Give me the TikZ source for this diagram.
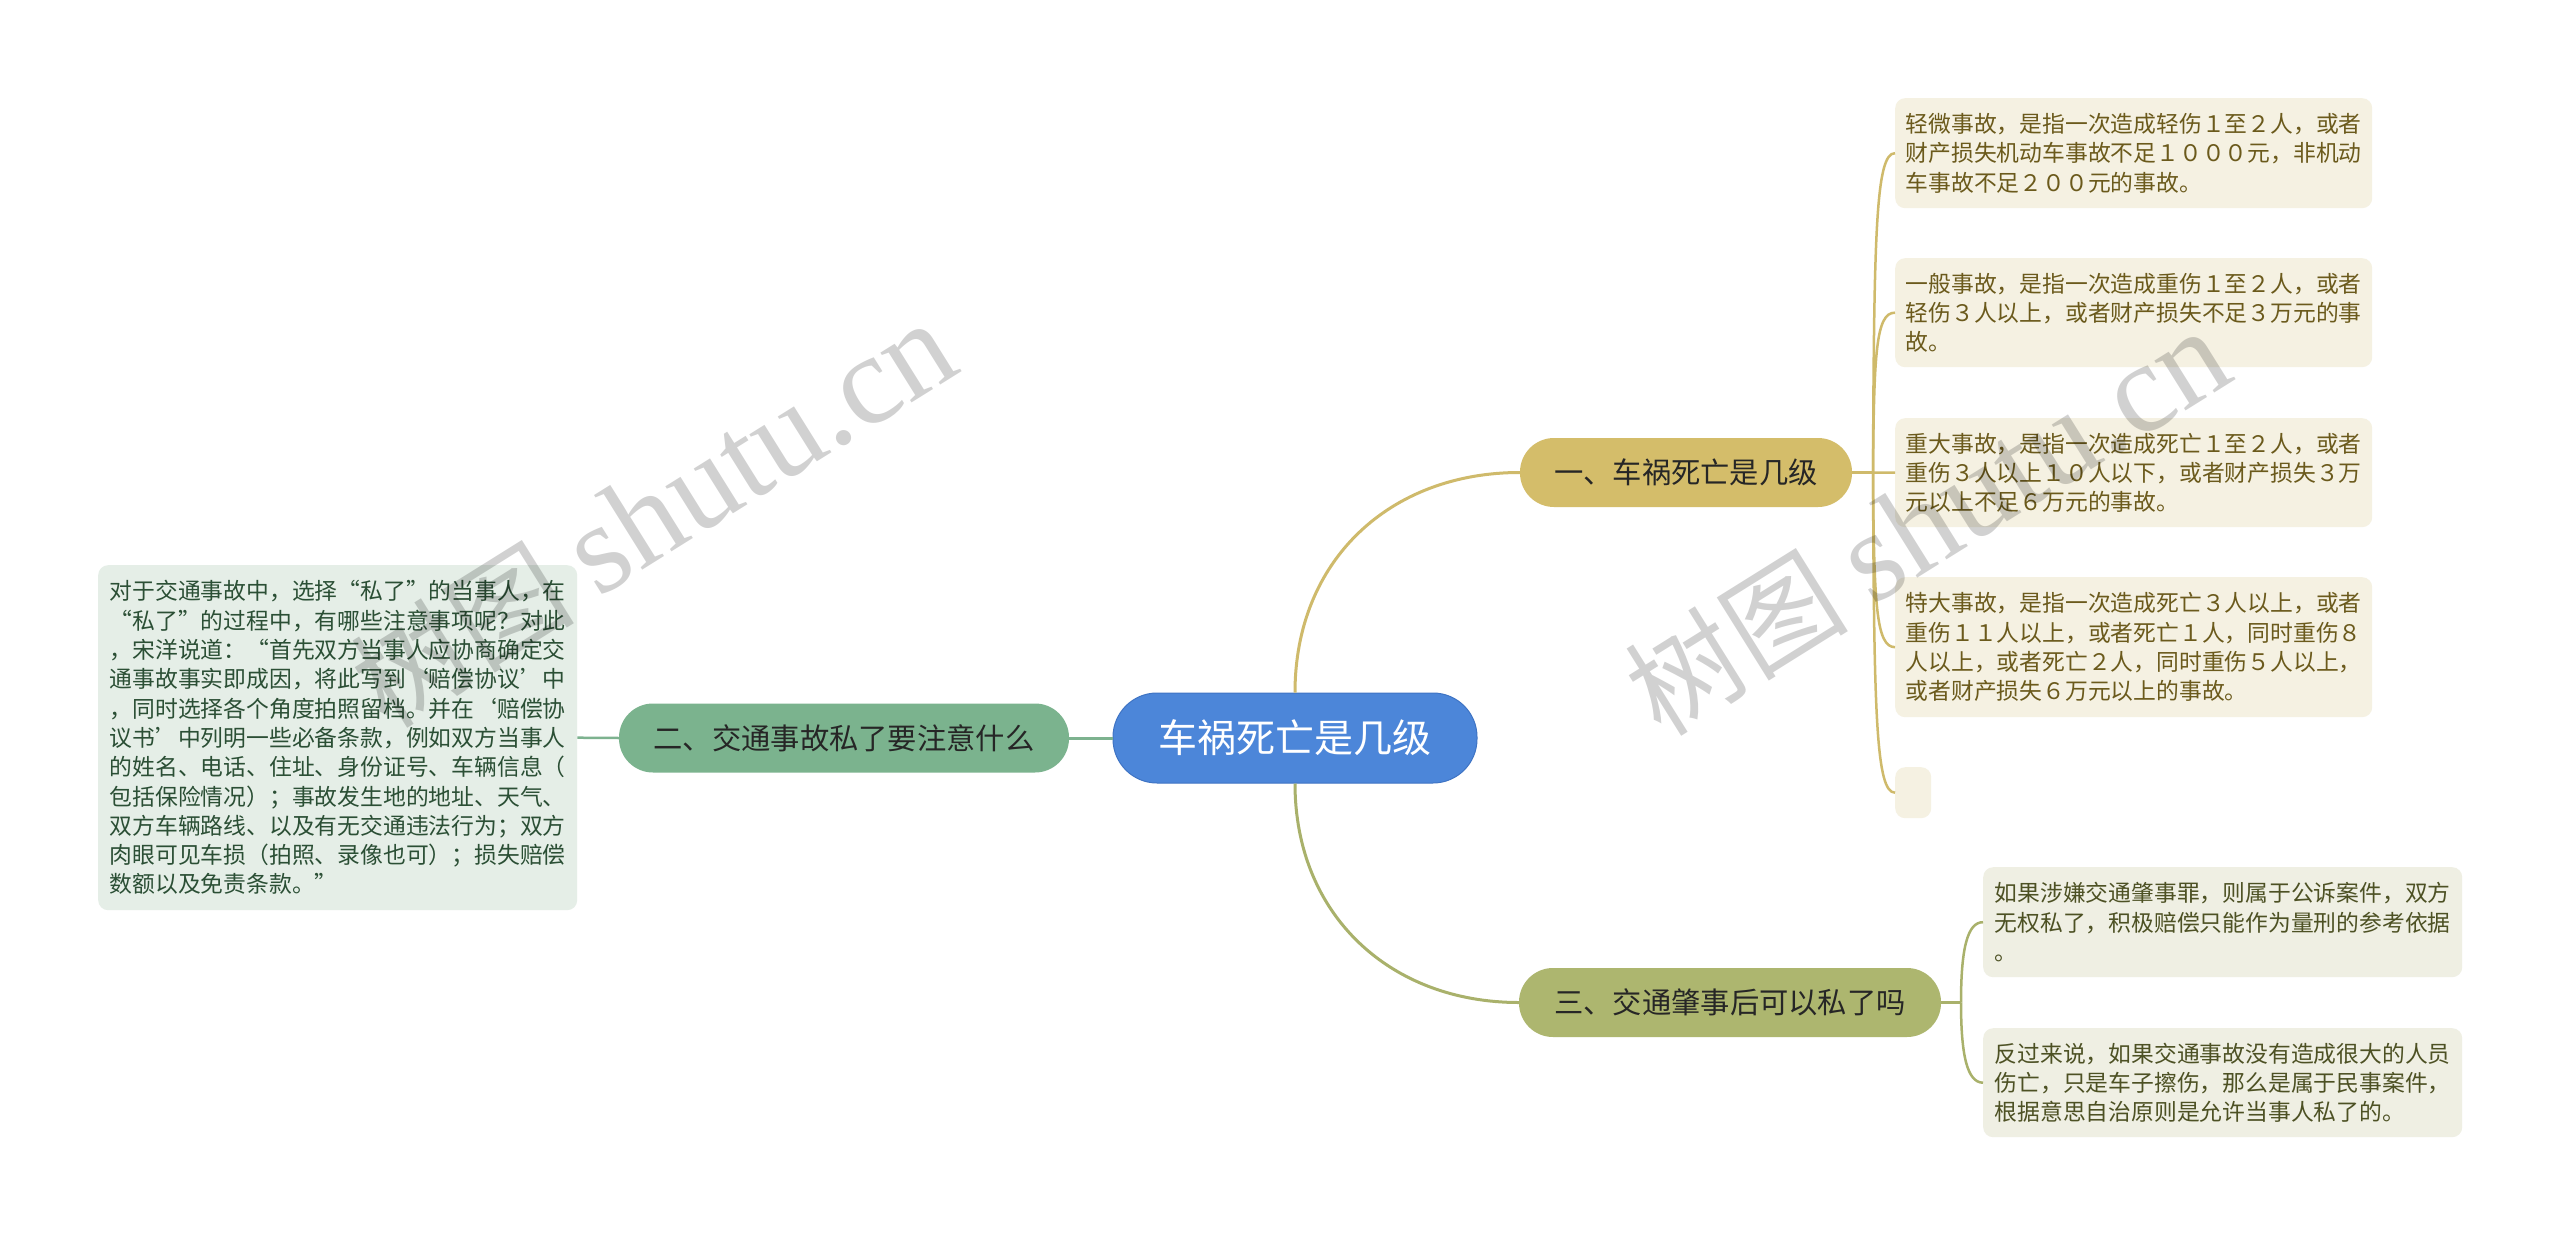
\documentclass[tikz,border=0pt]{standalone}
\usepackage{fontspec}
\setmainfont{Noto Sans CJK SC}
\newfontfamily\wmlatin{Liberation Serif}
\definecolor{cblue}{HTML}{4C86D9}
\definecolor{cblueb}{HTML}{3F74C4}
\definecolor{cgold}{HTML}{D4BD6A}
\definecolor{cgreen}{HTML}{7BB38E}
\definecolor{colive}{HTML}{ADB66F}
\definecolor{lgold}{HTML}{CFBA6B}
\definecolor{lgreen}{HTML}{7DB28F}
\definecolor{lolive}{HTML}{A9B16B}
\definecolor{fgold}{HTML}{F5F1E2}
\definecolor{tgold}{HTML}{6B5A1C}
\definecolor{fgreen}{HTML}{E5EEE7}
\definecolor{tgreen}{HTML}{2B4F35}
\definecolor{folive}{HTML}{EFEFE3}
\definecolor{tolive}{HTML}{4D5124}
\definecolor{tdark}{HTML}{262626}
\begin{document}
\begin{tikzpicture}[x=1pt,y=-1pt,
  topic/.style={rounded corners=34pt, minimum height=69pt, inner sep=0pt,
    text=tdark, font=\fontsize{29.3}{30}\selectfont},
  leafbox/.style={rounded corners=10pt, inner sep=0pt, align=left, anchor=north west,
    font=\fontsize{22.8}{29.3}\selectfont},
  goldleaf/.style={leafbox, fill=fgold, text=tgold},
  greenleaf/.style={leafbox, fill=fgreen, text=tgreen},
  oliveleaf/.style={leafbox, fill=folive, text=tolive},
  mainline/.style={line width=3pt},
  subline/.style={line width=2.5pt},
  watermark/.style={text=black, opacity=0.18, rotate=32, inner sep=0pt}
]
\useasboundingbox[fill=white] (0,0) rectangle (2560,1236);

% root and topics
\node[draw=cblueb, line width=1pt, fill=cblue, rounded corners=44pt,
  minimum width=364pt, minimum height=90pt, inner sep=0pt, text=white,
  font=\fontsize{39}{40}\selectfont] (root) at (1295,738) {车祸死亡是几级};
\node[topic, fill=cgold, minimum width=332pt] (n1) at (1686,472.5) {一、车祸死亡是几级};
\node[topic, fill=cgreen, minimum width=450pt] (n2) at (844,738) {二、交通事故私了要注意什么};
\node[topic, fill=colive, minimum width=422pt] (n3) at (1730,1002.5) {三、交通肇事后可以私了吗};

% leaves of topic 1
\node[goldleaf, minimum width=477pt, minimum height=110pt] (a1) at (1895,98)
  {轻微事故，是指一次造成轻伤１至２人，或者\\财产损失机动车事故不足１０００元，非机动\\车事故不足２００元的事故。};
\node[goldleaf, minimum width=477pt, minimum height=109pt] (a2) at (1895,258)
  {一般事故，是指一次造成重伤１至２人，或者\\轻伤３人以上，或者财产损失不足３万元的事\\故。\hspace*{17em}};
\node[goldleaf, minimum width=477pt, minimum height=109pt] (a3) at (1895,418)
  {重大事故，是指一次造成死亡１至２人，或者\\重伤３人以上１０人以下，或者财产损失３万\\元以上不足６万元的事故。};
\node[goldleaf, minimum width=477pt, minimum height=140pt] (a4) at (1895,577)
  {特大事故，是指一次造成死亡３人以上，或者\\重伤１１人以上，或者死亡１人，同时重伤８\\人以上，或者死亡２人，同时重伤５人以上，\\或者财产损失６万元以上的事故。};
\node[goldleaf, minimum width=36pt, minimum height=51pt] (a5) at (1895,767) {};

% leaf of topic 2
\node[greenleaf, minimum width=479pt, minimum height=345pt] (b1) at (98,565)
  {对于交通事故中，选择“私了”的当事人，在\\“私了”的过程中，有哪些注意事项呢？对此\\，宋洋说道：“首先双方当事人应协商确定交\\通事故事实即成因，将此写到‘赔偿协议’中\\，同时选择各个角度拍照留档。并在‘赔偿协\\议书’中列明一些必备条款，例如双方当事人\\的姓名、电话、住址、身份证号、车辆信息（\\包括保险情况）；事故发生地的地址、天气、\\双方车辆路线、以及有无交通违法行为；双方\\肉眼可见车损（拍照、录像也可）；损失赔偿\\数额以及免责条款。”};

% leaves of topic 3
\node[oliveleaf, minimum width=479pt, minimum height=110pt] (c1) at (1983,867)
  {如果涉嫌交通肇事罪，则属于公诉案件，双方\\无权私了，积极赔偿只能作为量刑的参考依据\\。};
\node[oliveleaf, minimum width=479pt, minimum height=109pt] (c2) at (1983,1028)
  {反过来说，如果交通事故没有造成很大的人员\\伤亡，只是车子擦伤，那么是属于民事案件，\\根据意思自治原则是允许当事人私了的。};

% main connectors
\draw[mainline, lgold] (root.north) .. controls (1295,560) and (1390,472.5) .. (n1.west);
\draw[mainline, lolive] (root.south) .. controls (1295,915) and (1390,1002.5) .. (n3.west);
\draw[mainline, lgreen] (root.west) -- (n2.east);

% branches of topic 1
\coordinate (j1) at (1873,472.5);
\draw[subline, lgold] (n1.east) -- (j1);
\draw[subline, lgold] (j1) .. controls (1874,230) and (1876,153) .. (a1.west);
\draw[subline, lgold] (j1) .. controls (1874,352) and (1876,312.5) .. (a2.west);
\draw[subline, lgold] (j1) -- (a3.west);
\draw[subline, lgold] (j1) .. controls (1874,605) and (1876,647) .. (a4.west);
\draw[subline, lgold] (j1) .. controls (1874,715) and (1876,792.5) .. (a5.west);

% branch of topic 2
\draw[subline, lgreen] (n2.west) -- (b1.east);

% branches of topic 3
\coordinate (j3) at (1961,1002.5);
\draw[subline, lolive] (n3.east) -- (j3);
\draw[subline, lolive] (j3) .. controls (1961,950) and (1967,922) .. (c1.west);
\draw[subline, lolive] (j3) .. controls (1961,1055) and (1967,1082.5) .. (c2.west);

% watermarks
\node[watermark] (w1) at (653,514) {\fontsize{112}{112}\selectfont 树图 {\wmlatin\fontsize{128}{128}\selectfont shutu.cn}};
\node[watermark] (w2) at (1927,522) {\fontsize{112}{112}\selectfont 树图 {\wmlatin\fontsize{128}{128}\selectfont shutu.cn}};
\end{tikzpicture}
\end{document}
